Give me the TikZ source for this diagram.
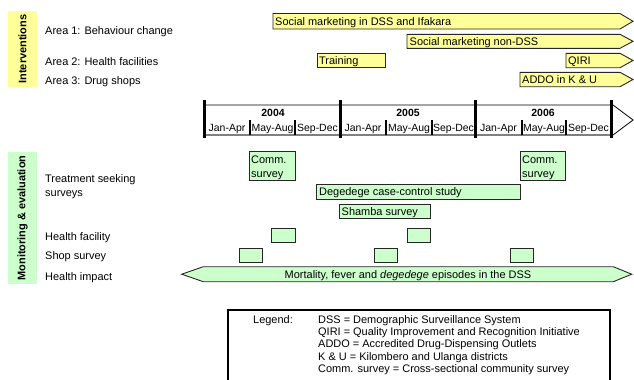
\documentclass[tikz,border=0pt]{standalone}
\usepackage{fontspec}
\setmainfont{Liberation Sans}
\definecolor{ylw}{HTML}{FFFF99}
\definecolor{grn}{HTML}{CCFFCC}
\definecolor{edge}{HTML}{262626}
\begin{document}
\begin{tikzpicture}[x=1bp,y=-1bp,
  txt/.style={anchor=base west,inner sep=0pt,font=\fontsize{11}{12.3}\selectfont},
  ctxt/.style={anchor=base,inner sep=0pt,font=\fontsize{11}{12.3}\selectfont},
  tl/.style={anchor=base,inner sep=0pt,font=\fontsize{10.5}{12}\selectfont},
  tly/.style={anchor=base,inner sep=0pt,font=\fontsize{10.5}{12}\selectfont\bfseries},
  bandtxt/.style={rotate=90,inner sep=0pt,font=\fontsize{11}{12}\selectfont\bfseries},
  ybox/.style={fill=ylw,draw=edge,line width=0.9bp},
  gbox/.style={fill=grn,draw=edge,line width=0.9bp},
  yr/.style={line width=3bp},
  mo/.style={line width=1.8bp}]
\useasboundingbox (0,0) rectangle (634,379);

% side bands
\fill[ylw] (8,11) rectangle (37,87);
\node[bandtxt] (intv) at (22.5,49) {Interventions};
\fill[grn] (8,152) rectangle (37,284);
\node[bandtxt] (mon) at (22.5,218) {Monitoring \& evaluation};

% row labels
\node[txt] (a1) at (45,34) {Area 1: Behaviour change};
\node[txt] (a2) at (45,65) {Area 2: Health facilities};
\node[txt] (a3) at (45,84) {Area 3: Drug shops};
\node[txt] (ts1) at (45,182) {Treatment seeking};
\node[txt] (ts2) at (45,196.5) {surveys};
\node[txt] (hf) at (45,240.5) {Health facility};
\node[txt] (ss) at (45,259.5) {Shop survey};
\node[txt] (hi) at (45,280) {Health impact};

% intervention bars
\draw[ybox] (273,13.5) -- (620,13.5) -- (633,21.3) -- (620,29) -- (273,29) -- cycle;
\node[txt] (sm1) at (275,25.3) {Social marketing in DSS and Ifakara};
\draw[ybox] (407,34.3) -- (620,34.3) -- (633,41.3) -- (620,48.3) -- (407,48.3) -- cycle;
\node[txt] (sm2) at (409.5,45.3) {Social marketing non-DSS};
\draw[ybox] (317,53.3) rectangle (385,67.7);
\node[txt] (trn) at (319,64.5) {Training};
\draw[ybox] (566,53.3) -- (620,53.3) -- (633,60.5) -- (620,67.7) -- (566,67.7) -- cycle;
\node[txt] (qiri) at (568,64.5) {QIRI};
\draw[ybox] (520,72.3) -- (620,72.3) -- (633,79.5) -- (620,86.7) -- (520,86.7) -- cycle;
\node[txt] (addo) at (522,83.5) {ADDO in K \& U};

% timeline
\draw[fill=white,line width=0.8bp] (204,105) -- (613,105) -- (633,120) -- (613,135) -- (204,135);
\draw[gray,line width=1.6bp] (204,135) -- (613,135);
\foreach \x in {204,340,475,611} \draw[yr] (\x,100) -- (\x,138);
\foreach \x in {250,295,386,432,522,566} \draw[mo] (\x,120) -- (\x,135);
\node[tly] (y4) at (273,116) {2004};
\node[tly] (y5) at (408,116) {2005};
\node[tly] (y6) at (543,116) {2006};
\foreach \x/\m [count=\i] in {227/Jan-Apr,272.5/May-Aug,317.5/Sep-Dec,363/Jan-Apr,409/May-Aug,453.5/Sep-Dec,498.5/Jan-Apr,544/May-Aug,588.5/Sep-Dec}
  \node[tl] (m\i) at (\x,131) {\m};

% monitoring bars
\draw[gbox] (249,151.7) rectangle (295,180);
\node[txt] (cs1a) at (251,163.3) {Comm.};
\node[txt] (cs1b) at (251,177.3) {survey};
\draw[gbox] (520,151.7) rectangle (565.7,180);
\node[txt] (cs2a) at (522,163.3) {Comm.};
\node[txt] (cs2b) at (522,177.3) {survey};
\draw[gbox] (316.7,184.3) rectangle (520.7,199.3);
\node[txt] (deg) at (319,195.7) {Degedege case-control study};
\draw[gbox] (339.3,204) rectangle (430,218.3);
\node[txt] (sham) at (341.5,215) {Shamba survey};
\draw[gbox] (271.7,228.3) rectangle (295,242.3);
\draw[gbox] (407.3,228.3) rectangle (430,242.3);
\draw[gbox] (239.3,248.3) rectangle (262.7,262.3);
\draw[gbox] (374,248.3) rectangle (397.3,262.3);
\draw[gbox] (510,248.3) rectangle (533.3,262.3);
\draw[gbox] (181.7,274.2) -- (203.3,266.7) -- (613.3,266.7) -- (631.7,274.2) -- (613.3,281.7) -- (203.3,281.7) -- cycle;
\node[ctxt] (mort) at (408,278) {Mortality, fever and \textit{degedege} episodes in the DSS};

% legend
\draw[line width=1.5bp] (228,390) -- (228,310) -- (610,310) -- (610,390);
\node[txt] (leg) at (253,323) {Legend:};
\node[txt] (l1) at (318,323) {DSS = Demographic Surveillance System};
\node[txt] (l2) at (318,335) {QIRI = Quality Improvement and Recognition Initiative};
\node[txt] (l3) at (318,347.5) {ADDO = Accredited Drug-Dispensing Outlets};
\node[txt] (l4) at (318,360) {K \& U = Kilombero and Ulanga districts};
\node[txt] (l5) at (318,372.3) {Comm. survey = Cross-sectional community survey};
\end{tikzpicture}
\end{document}
